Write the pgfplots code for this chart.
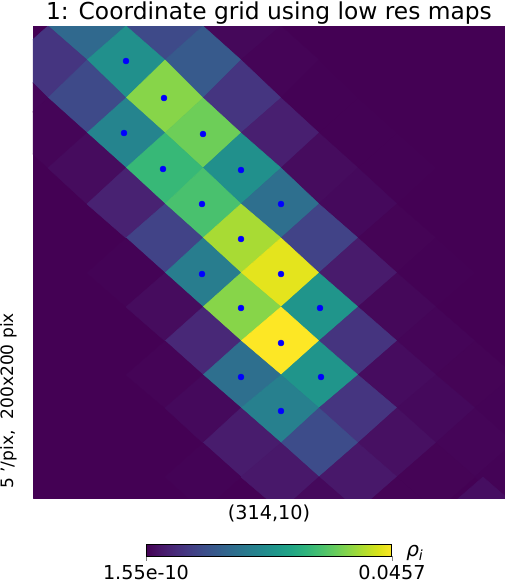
\documentclass[border=0pt]{standalone}
\usepackage{fontspec}
\setmainfont{DejaVu Sans}
\usepackage{pgfplots}
\pgfplotsset{compat=1.18}
\begin{document}
\begin{tikzpicture}
% data units are pixels of the 505x583 picture, 1px = 0.75pt
\begin{axis}[
  scale only axis, width=354pt, height=354pt,
  xmin=33, xmax=505, ymin=26, ymax=498, y dir=reverse,
  hide axis,
  colormap/viridis, point meta min=0, point meta max=0.0457,
  colorbar horizontal,
  colorbar style={
    at={(0.5,-0.0975)}, anchor=north,
    width=184.5pt, height=9pt,
    xtick={0,0.0457}, xticklabels={1.55e-10,0.0457},
    scaled x ticks=false,
    ytick=\empty,
    xtick pos=bottom, xtick align=outside,
    major tick length=3.5pt,
    every axis/.append style={line width=0.75pt},
    xticklabel style={font=\fontsize{14.4}{16}\selectfont, inner sep=0pt, yshift=-2.9pt},
    /pgf/number format/assume math mode=true,
  },
  after end axis/.code={
    \path (axis cs:0,26) rectangle (axis cs:505,0);
    \path (axis cs:0,583) rectangle (axis cs:505,498);
    \node[font=\fontsize{17.5}{20}\selectfont, anchor=base, inner sep=0pt] at (axis cs:269,19) {1: Coordinate grid using low res maps};
    \node[font=\fontsize{14.4}{17}\selectfont, anchor=base, inner sep=0pt] at (axis cs:269,519) {(314,10)};
    \node[font=\fontsize{12.8}{15}\selectfont, anchor=base, rotate=90, inner sep=0pt] at (axis cs:13,401) {5 '/pix,~~200x200 pix};
    \node[font=\fontsize{15}{17}\selectfont, anchor=base west, inner sep=0pt] at (axis cs:406,556) {\textit{ρ}\textsubscript{\textit{i}}};
  },
]
% background
\addplot[patch, patch type=rectangle, shader=flat, point meta=explicit] coordinates {(33,26) [0] (505,26) [0] (505,498) [0] (33,498) [0]};
% map pixels, one per line: left, top, right, bottom corner, value
\addplot[patch, patch type=rectangle, shader=flat, point meta=explicit] coordinates {
(48,26) [.0155] (87,-8) [.0155] (126,26) [.0155] (87,60) [.0155]
(126,26) [.0101] (165,-8) [.0101] (203,26) [.0101] (165,60) [.0101]
(203,26) [.0008] (241,-8) [.0008] (281,26) [.0008] (241,60) [.0008]
(10,60) [.0069] (48,26) [.0069] (87,60) [.0069] (48,98) [.0069]
(87,60) [.0229] (126,26) [.0229] (165,60) [.0229] (126,98) [.0229]
(165,60) [.0128] (203,26) [.0128] (241,60) [.0128] (203,98) [.0128]
(241,60) [.0004] (281,26) [.0004] (319,60) [.0004] (281,98) [.0004]
(-27,98) [.0006] (10,60) [.0006] (48,98) [.0006] (10,133) [.0006]
(48,98) [.0101] (87,60) [.0101] (126,98) [.0101] (87,133) [.0101]
(126,98) [.0375] (165,60) [.0375] (203,98) [.0375] (165,133) [.0375]
(203,98) [.0069] (241,60) [.0069] (281,98) [.0069] (241,133) [.0069]
(281,98) [.0001] (319,60) [.0001] (358,98) [.0001] (319,133) [.0001]
(10,133) [.0005] (48,98) [.0005] (87,133) [.0005] (48,168) [.0005]
(87,133) [.0206] (126,98) [.0206] (165,133) [.0206] (126,168) [.0206]
(165,133) [.0356] (203,98) [.0356] (241,133) [.0356] (203,168) [.0356]
(241,133) [.0038] (281,98) [.0038] (319,133) [.0038] (281,168) [.0038]
(319,133) [.0001] (358,98) [.0001] (397,133) [.0001] (358,168) [.0001]
(48,168) [.0013] (87,133) [.0013] (126,168) [.0013] (87,204) [.0013]
(126,168) [.0306] (165,133) [.0306] (203,168) [.0306] (165,204) [.0306]
(203,168) [.0229] (241,133) [.0229] (281,168) [.0229] (241,204) [.0229]
(281,168) [.0013] (319,133) [.0013] (358,168) [.0013] (319,204) [.0013]
(358,168) [.0001] (397,133) [.0001] (436,168) [.0001] (397,204) [.0001]
(87,204) [.0042] (126,168) [.0042] (165,204) [.0042] (126,238) [.0042]
(165,204) [.0325] (203,168) [.0325] (241,204) [.0325] (203,238) [.0325]
(241,204) [.0165] (281,168) [.0165] (319,204) [.0165] (281,238) [.0165]
(319,204) [.0010] (358,168) [.0010] (397,204) [.0010] (358,238) [.0010]
(126,238) [.0091] (165,204) [.0091] (203,238) [.0091] (165,273) [.0091]
(203,238) [.0398] (241,204) [.0398] (281,238) [.0398] (241,273) [.0398]
(281,238) [.0091] (319,204) [.0091] (358,238) [.0091] (319,273) [.0091]
(358,238) [.0003] (397,204) [.0003] (436,238) [.0003] (397,273) [.0003]
(87,273) [.0002] (126,238) [.0002] (165,273) [.0002] (126,307) [.0002]
(165,273) [.0192] (203,238) [.0192] (241,273) [.0192] (203,307) [.0192]
(241,273) [.0439] (281,238) [.0439] (319,273) [.0439] (281,307) [.0439]
(319,273) [.0032] (358,238) [.0032] (397,273) [.0032] (358,307) [.0032]
(397,273) [.0001] (436,238) [.0001] (475,273) [.0001] (436,307) [.0001]
(126,307) [.0013] (165,273) [.0013] (203,307) [.0013] (165,341) [.0013]
(203,307) [.0375] (241,273) [.0375] (281,307) [.0375] (241,341) [.0375]
(281,307) [.0238] (319,273) [.0238] (358,307) [.0238] (319,341) [.0238]
(358,307) [.0008] (397,273) [.0008] (436,307) [.0008] (397,341) [.0008]
(165,341) [.0050] (203,307) [.0050] (241,341) [.0050] (203,375) [.0050]
(241,341) [.0457] (281,307) [.0457] (319,341) [.0457] (281,375) [.0457]
(319,341) [.0068] (358,307) [.0068] (397,341) [.0068] (358,375) [.0068]
(397,341) [.0005] (436,307) [.0005] (475,341) [.0005] (436,375) [.0005]
(126,375) [.0004] (165,341) [.0004] (203,375) [.0004] (165,408) [.0004]
(203,375) [.0165] (241,341) [.0165] (281,375) [.0165] (241,408) [.0165]
(281,375) [.0238] (319,341) [.0238] (358,375) [.0238] (319,408) [.0238]
(358,375) [.0014] (397,341) [.0014] (436,375) [.0014] (397,408) [.0014]
(436,375) [.0003] (475,341) [.0003] (514,375) [.0003] (475,408) [.0003]
(165,408) [.0010] (203,375) [.0010] (241,408) [.0010] (203,443) [.0010]
(241,408) [.0197] (281,375) [.0197] (319,408) [.0197] (281,443) [.0197]
(319,408) [.0070] (358,375) [.0070] (397,408) [.0070] (358,443) [.0070]
(397,408) [.0010] (436,375) [.0010] (475,408) [.0010] (436,443) [.0010]
(475,408) [.0002] (514,375) [.0002] (553,408) [.0002] (514,443) [.0002]
(203,443) [.0034] (241,408) [.0034] (281,443) [.0034] (241,477) [.0034]
(281,443) [.0105] (319,408) [.0105] (358,443) [.0105] (319,477) [.0105]
(358,443) [.0018] (397,408) [.0018] (436,443) [.0018] (397,477) [.0018]
(436,443) [.0005] (475,408) [.0005] (514,443) [.0005] (475,477) [.0005]
(165,477) [.0002] (203,443) [.0002] (241,477) [.0002] (203,511) [.0002]
(241,477) [.0028] (281,443) [.0028] (319,477) [.0028] (281,511) [.0028]
(319,477) [.0028] (358,443) [.0028] (397,477) [.0028] (358,511) [.0028]
(397,477) [.0003] (436,443) [.0003] (475,477) [.0003] (436,511) [.0003]
(475,477) [.0002] (514,443) [.0002] (553,477) [.0002] (514,511) [.0002]
(281,511) [.0010] (319,477) [.0010] (358,511) [.0010] (319,545) [.0010]
(358,511) [.0003] (397,477) [.0003] (436,511) [.0003] (397,545) [.0003]
(444,511) [.0016] (483,477) [.0016] (522,511) [.0016] (483,545) [.0016]
};
% sample positions
\addplot[only marks, mark=*, mark size=2.2pt, color=blue, mark options={draw=blue, fill=blue}] coordinates {
(126,61) (164,98) (124,133) (203,134) (163,169) (241,170) (202,204) (281,204)
(241,239) (202,274) (281,274) (241,308) (320,308) (281,343) (241,377) (321,377) (281,411)};
\end{axis}
\end{tikzpicture}
\end{document}
